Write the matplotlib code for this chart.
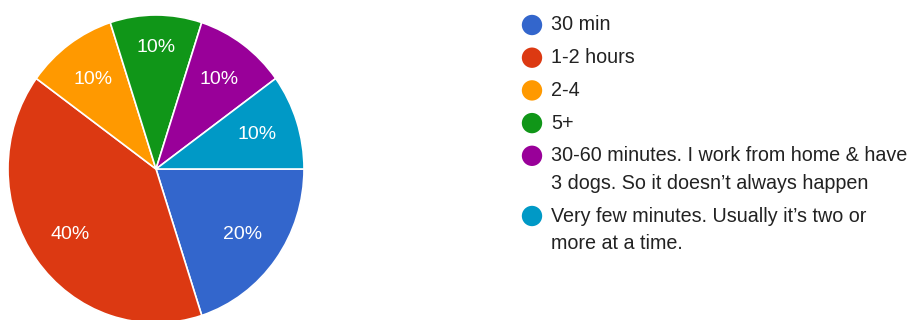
import matplotlib
matplotlib.use("Agg")
import matplotlib.pyplot as plt
import numpy as np

plt.rcParams['font.family'] = ['Liberation Sans', 'DejaVu Sans']

labels = [
    "30 min",
    "1-2 hours",
    "2-4",
    "5+",
    "30-60 minutes. I work from home & have\n3 dogs. So it doesn\u2019t always happen",
    "Very few minutes. Usually it\u2019s two or\nmore at a time.",
]
shares = [20, 40, 10, 10, 10, 10]
colors = ["#3366CC", "#DC3912", "#FF9900", "#109618", "#990099", "#0099C6"]

W, H = 909, 320
fig = plt.figure(figsize=(W / 100, H / 100), dpi=100)

# pie axes (slightly taller than wide, clipped by the figure edge at the bottom)
ax = fig.add_axes([8 / W, (H - 323) / H, 296 / W, 308 / H])
wedges, texts, autotexts = ax.pie(
    shares, colors=colors, startangle=0, counterclock=False,
    autopct=lambda p: f"{p:.0f}%", pctdistance=0.72,
    wedgeprops=dict(edgecolor="white", linewidth=1.2),
    textprops=dict(color="white", fontsize=14),
)
# the label in the top wedge sits a little further out
w = wedges[3]
mid = np.deg2rad((w.theta1 + w.theta2) / 2)
autotexts[3].set_position((0.79 * np.cos(mid), 0.79 * np.sin(mid)))

ax.set_aspect("auto")
ax.set_xlim(-1, 1)
ax.set_ylim(-1, 1)
ax.axis("off")

# legend drawn in pixel coordinates
lg = fig.add_axes([0, 0, 1, 1])
lg.set_xlim(0, W)
lg.set_ylim(H, 0)
lg.axis("off")
y = 25
for lab, col in zip(labels, colors):
    lg.scatter([532], [y], s=215, color=col, edgecolors="none")
    lines = lab.split("\n")
    for i, line in enumerate(lines):
        lg.text(551, y + i * 27.5, line, fontsize=14.2, color="#222222",
                va="center", ha="left")
    y += 32.7 + 27.5 * (len(lines) - 1)

fig.savefig("out.png", dpi=100)
